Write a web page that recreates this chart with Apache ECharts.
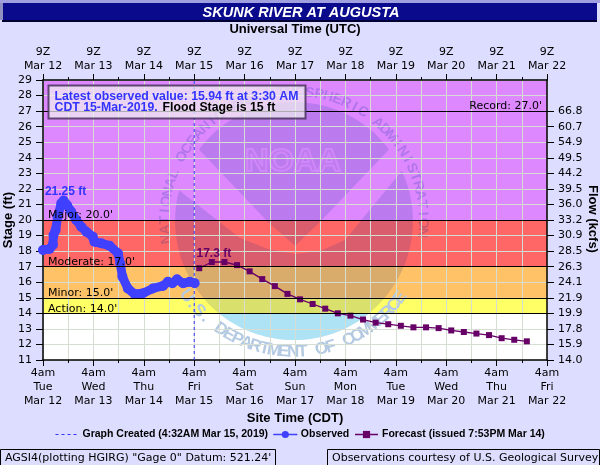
<!DOCTYPE html>
<html><head><meta charset="utf-8">
<style>html,body{margin:0;padding:0;background:#DDDDFF}#c{width:600px;height:465px}</style>
<script src="https://cdn.jsdelivr.net/npm/echarts@6/dist/echarts.min.js"></script>
</head><body><div id="c"></div>
<script>
const bottomTimes = ['4am','4am','4am','4am','4am','4am','4am','4am','4am','4am','4am'];
const weekdays = ['Tue','Wed','Thu','Fri','Sat','Sun','Mon','Tue','Wed','Thu','Fri'];
const dates = ['Mar 12','Mar 13','Mar 14','Mar 15','Mar 16','Mar 17','Mar 18','Mar 19','Mar 20','Mar 21','Mar 22'];
const flowLabels = ['14.0','15.9','17.8','19.9','21.9','24.1','26.3','28.5','30.9','33.2','36.0','39.5','44.2','49.5','54.9','60.7','66.8'];
const obsHours = [0,3.1,4.7,5,6,7,8.7,9.8,11.4,13.4,15.8,18.2,20.6,23.7,24.5,27.7,31.7,35.7,36.8,37.8,40.4,43.6,47.6,52.3,57.1,59.5,61.6,63.8,66.7,69.9,72.2];
const obsStage = [18.07,18.14,18.4,19.04,19.36,20.2,21.07,21.25,20.97,20.54,20.0,19.57,19.25,18.93,18.6,18.5,18.35,17.86,17.2,16.36,15.6,15.24,15.29,15.6,15.76,16.03,15.93,16.19,15.93,16.03,15.94];
const fcstHours = [74.4,80.4,86.4,92.4,98.4,104.4,110.4,116.4,122.4,128.4,134.4,140.4,146.4,152.4,158.4,164.4,170.4,176.4,182.4,188.4,194.4,200.4,206.4,212.4,218.4,224.4,230.4];
const fcstStage = [16.9,17.3,17.3,17.1,16.7,16.2,15.75,15.25,14.9,14.6,14.3,14.0,13.85,13.6,13.4,13.3,13.2,13.1,13.1,13.05,12.9,12.8,12.7,12.6,12.4,12.3,12.2];
const createdHour = 72;
const thresholds = [[14,"Action: 14.0'"],[15,"Minor: 15.0'"],[17,"Moderate: 17.0'"],[20,"Major: 20.0'"]];
const recordStage = [27,"Record: 27.0'"];
const bands = [[11,14,'#FFFFFF'],[14,15,'#FFFF66'],[15,17,'#FFC266'],[17,20,'#FF6666'],[20,29,'#DD88FF']];

const FONT = '"DejaVu Sans"', BOLD = '"Liberation Sans"';
const GRID = '#D6DDD2';
const OBS = '#4040FF', FC = '#660066';
const WM = 'rgba(0,45,150,0.15)';

function ringText(str, cx, cy, r, start, step, color, font, bottom) {
  return str.split('').map((ch, i) => {
    const th = start + step * i, a = th * Math.PI / 180;
    const rot = bottom ? (90 - th) : (270 - th);
    return {type:'text', z:-1, x: cx + r * Math.cos(a), y: cy + r * Math.sin(a), rotation: rot * Math.PI / 180,
      style:{text: ch, fill: color, font, textAlign:'center', textVerticalAlign:'middle'}, silent:true};
  });
}
const LCX = 294, LCY = 221, LR = 119;
function arc(a0, a1) {
  const p = [];
  for (let i = 0; i <= 40; i++) { const a = (a0 + (a1 - a0) * i / 40) * Math.PI / 180; p.push([LCX + LR * Math.cos(a), LCY + LR * Math.sin(a)]); }
  return p;
}
const poly = (points, fill) => ({type:'polygon', z:-1, silent:true, shape:{points}, style:{fill}});
const logo = [
  poly([...arc(217,323), [320,222],[295,246],[268,222]], WM),
  poly([...arc(195,-25), [345,240],[320,251],[295,254],[268,249],[240,238]], WM),
  poly([...arc(129,51)], '#AEE2F5'),
  {type:'text', z:-1, silent:true, x:245, y:147, scaleX:1.05, scaleY:1.0, style:{text:'NOAA', font:'bold 31px '+BOLD, fill:'rgba(221,136,255,0.1)', stroke:'rgba(225,150,255,0.5)', lineWidth:2}},
  ...ringText('NATIONAL OCEANIC AND ATMOSPHERIC ADMINISTRATION', LCX, LCY, 129, 172, 4.2, 'rgba(0,45,150,0.2)', 'bold 14px '+BOLD, false),
  ...ringText('U.S. DEPARTMENT OF COMMERCE', LCX, LCY, 131, 145, -4.2, '#B4CAE2', 'bold 17px '+BOLD, true)
];

const frame = [
  {type:'rect', z:5, silent:true, shape:{x:0,y:0,width:600,height:3}, style:{fill:'#A0A0E0'}},
  {type:'rect', z:5, silent:true, shape:{x:3,y:3,width:594,height:17}, style:{fill:'#0A0A8C'}},
  {type:'rect', z:5, silent:true, shape:{x:2,y:20,width:595,height:2}, style:{fill:'#000033'}},
  {type:'rect', z:5, silent:true, shape:{x:0,y:3,width:3,height:17}, style:{fill:'#9090C0'}},
  {type:'rect', z:12, silent:true, shape:{x:48.5,y:85.5,width:257,height:33}, style:{fill:'rgba(240,240,240,0.72)', stroke:'rgba(70,50,90,0.85)', lineWidth:2}},
  {type:'text', z:13, silent:true, x:54.5, y:90.5, style:{text:'Latest observed value: 15.94 ft at 3:30 AM', font:'bold 12.3px '+BOLD, fill:'#3333FF'}},
  {type:'text', z:13, silent:true, x:54.5, y:102, style:{text:'CDT 15-Mar-2019.', font:'bold 12.3px '+BOLD, fill:'#3333FF'}},
  {type:'text', z:13, silent:true, x:162.5, y:102, style:{text:'Flood Stage is 15 ft', font:'bold 12.3px '+BOLD, fill:'#000'}},
  {type:'text', silent:true, x:295, y:29, style:{text:'Universal Time (UTC)', font:'bold 13px '+BOLD, fill:'#000', textAlign:'center', textVerticalAlign:'middle'}},
  {type:'text', silent:true, x:295, y:418, style:{text:'Site Time (CDT)', font:'bold 13px '+BOLD, fill:'#000', textAlign:'center', textVerticalAlign:'middle'}},
  {type:'text', silent:true, x:8, y:220, rotation:Math.PI/2, style:{text:'Stage (ft)', font:'bold 13px '+BOLD, fill:'#000', textAlign:'center', textVerticalAlign:'middle'}},
  {type:'text', silent:true, x:593, y:219, rotation:-Math.PI/2, style:{text:'Flow (kcfs)', font:'bold 13px '+BOLD, fill:'#000', textAlign:'center', textVerticalAlign:'middle'}},
  {type:'rect', silent:true, shape:{x:0.5,y:449.5,width:275,height:20}, style:{fill:'#DDDDFF', stroke:'#000', lineWidth:1}},
  {type:'rect', silent:true, shape:{x:327.5,y:449.5,width:272,height:20}, style:{fill:'#DDDDFF', stroke:'#000', lineWidth:1}},
  {type:'text', z:2, silent:true, x:5, y:458, style:{text:'AGSI4(plotting HGIRG) "Gage 0" Datum: 521.24\'', font:'11px '+FONT, fill:'#000', textVerticalAlign:'middle'}},
  {type:'text', z:2, silent:true, x:332, y:458, style:{text:'Observations courtesy of U.S. Geological Survey', font:'11px '+FONT, fill:'#000', textVerticalAlign:'middle'}}
];

const lineLbl = (text, pos) => ({show:true, formatter:text, position:pos, distance:-1, color:'#000', fontFamily:FONT, fontSize:11, padding:[0,6]});
const obsMax = Math.max(...obsStage), fcMax = Math.max(...fcstStage);
const obsData = obsHours.map((h,i) => obsStage[i] === obsMax
  ? {value:[h,obsStage[i]], label:{show:true, position:'top', distance:-2, offset:[2,0], formatter:obsMax.toFixed(2)+' ft', color:'#3333FF', fontFamily:BOLD, fontWeight:'bold', fontSize:12}}
  : [h,obsStage[i]]);
let fcLabeled = false;
const fcData = fcstHours.map((h,i) => {
  if (!fcLabeled && fcstStage[i] === fcMax) { fcLabeled = true;
    return {value:[h,fcstStage[i]], label:{show:true, position:'top', distance:-1, offset:[2,0], formatter:fcMax.toFixed(1)+' ft', color:FC, fontFamily:BOLD, fontWeight:'bold', fontSize:12}}; }
  return [h,fcstStage[i]];
});

const xBase = {type:'value', min:0, max:240, interval:24, axisLine:{show:true, onZero:false, lineStyle:{color:'#000',width:1.5}},
  axisTick:{show:true, length:6, lineStyle:{color:'#000',width:1}},
  minorTick:{show:true, splitNumber:2, length:3, lineStyle:{color:'#000',width:1}}};
const yBase = {type:'value', min:11, max:29, interval:1, axisLine:{show:true, onZero:false, lineStyle:{color:'#000',width:1.5}},
  axisTick:{show:true, length:7, lineStyle:{color:'#000',width:1}}};

const chart = echarts.init(document.getElementById('c'));
chart.setOption({
  animation:false,
  backgroundColor:'#DDDDFF',
  title:{text:'SKUNK RIVER AT AUGUSTA', left:296, top:0, textAlign:'center', z:8, textStyle:{color:'#fff', fontFamily:BOLD, fontStyle:'italic', fontWeight:'bold', fontSize:14.5}},
  grid:{left:43, right:53, top:80, bottom:105, containLabel:false},
  xAxis:[
    {...xBase, position:'bottom',
      splitLine:{show:true, lineStyle:{color:GRID,width:1}}, minorSplitLine:{show:true, lineStyle:{color:GRID,width:1}},
      axisLabel:{color:'#000', fontFamily:FONT, fontSize:11, lineHeight:14, margin:6, showMinLabel:true, showMaxLabel:true,
        formatter:v=>{const i=v/24; return bottomTimes[i]+'\n'+weekdays[i]+'\n'+dates[i];}}},
    {...xBase, position:'top', splitLine:{show:false}, minorSplitLine:{show:false},
      axisLabel:{color:'#000', fontFamily:FONT, fontSize:11, lineHeight:14, margin:7, showMinLabel:true, showMaxLabel:true,
        formatter:v=>'9Z\n'+dates[v/24]}}
  ],
  yAxis:[
    {...yBase, position:'left', splitLine:{show:true, lineStyle:{color:GRID,width:1}},
      axisLabel:{color:'#000', fontFamily:FONT, fontSize:11, margin:11, showMinLabel:true, showMaxLabel:true}},
    {...yBase, position:'right', splitLine:{show:false},
      axisTick:{...yBase.axisTick, customValues:flowLabels.map((_,i)=>11+i)},
      axisLabel:{color:'#000', fontFamily:FONT, fontSize:11, margin:11, customValues:flowLabels.map((_,i)=>11+i),
        formatter:v=>flowLabels[v-11]||''}}
  ],
  legend:{left:50, top:424, itemGap:5, itemWidth:23, itemHeight:9, selectedMode:false,
    textStyle:{color:'#000', fontFamily:BOLD, fontWeight:'bold', fontSize:10.5, padding:[0,0,0,-1]},
    data:[
      {name:'Graph Created (4:32AM Mar 15, 2019)', lineStyle:{width:1,type:[3,3],color:'#3333FF'}, itemStyle:{color:'rgba(0,0,0,0)', borderWidth:0}},
      {name:'Observed', lineStyle:{width:1.5,color:OBS}},
      {name:'Forecast (issued 7:53PM Mar 14)', lineStyle:{width:1.5,color:FC}}
    ]},
  graphic:{elements:[...logo, ...frame]},
  series:[
    {name:'bands', type:'line', z:-2, data:[], silent:true, xAxisIndex:0, yAxisIndex:0,
      markArea:{z:-2, silent:true, data:bands.map(b=>[{yAxis:b[0], itemStyle:{color:b[2], opacity:1}},{yAxis:b[1]}])}},
    {name:'levels', type:'line', z:8, data:[], silent:true, xAxisIndex:0, yAxisIndex:0,
      markLine:{z:8, silent:true, symbol:'none', animation:false, lineStyle:{color:'#000',type:'solid',width:1.2},
        data:[
          ...thresholds.map(t=>({yAxis:t[0], label:lineLbl(t[1],'insideStartTop')})),
          {yAxis:recordStage[0], label:lineLbl(recordStage[1],'insideEndTop')}
        ]}},
    {name:'Graph Created (4:32AM Mar 15, 2019)', type:'line', z:4, data:[[createdHour,11],[createdHour,29]], symbol:'none',
      itemStyle:{color:'#3333FF'}, lineStyle:{color:'#3333FF', width:1, type:[3,3]}},
    {name:'Observed', type:'line', z:6, data:obsData, symbol:'circle', symbolSize:10, showAllSymbol:true,
      itemStyle:{color:OBS}, lineStyle:{color:OBS, width:9, cap:'round', join:'round'}},
    {name:'Forecast (issued 7:53PM Mar 14)', type:'line', z:7, data:fcData, symbol:'rect', symbolSize:6, showAllSymbol:true,
      itemStyle:{color:FC}, lineStyle:{color:FC, width:1.3}}
  ]
});
</script></body></html>
